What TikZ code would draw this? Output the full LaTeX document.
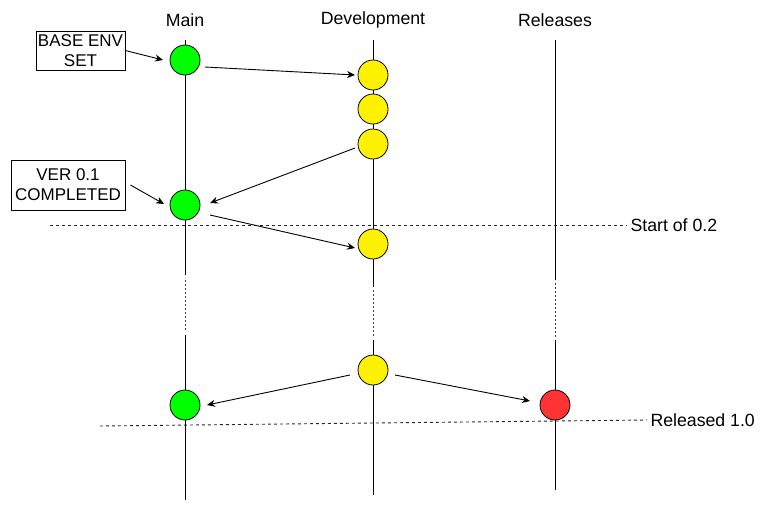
\documentclass[tikz,border=0pt]{standalone}
\usepackage{fontspec}
\setmainfont{Liberation Sans}
\usetikzlibrary{positioning}
\usetikzlibrary{backgrounds}
\usetikzlibrary{calc}
\usetikzlibrary{arrows.meta}
\definecolor{relred}{HTML}{FF3333}
\def\mainx{185}
\def\devx{373}
\def\relx{555}
\tikzset{
>={Stealth[length=8pt,width=7pt]}, % draw.io like tips
every node/.style={font=\fontsize{17.7}{20}\selectfont},
commit/.style={draw,circle,minimum size=30pt,inner sep=0pt,line width=0.8pt},
main commit/.style={commit,fill=green},
dev commit/.style={commit,fill=yellow},
rel commit/.style={commit,fill=relred},
note/.style={draw,align=center,inner sep=0pt,line width=0.8pt,font=\fontsize{17}{20}\selectfont},
branch/.style={line width=0.9pt},
gap/.style={line width=0.9pt,black!75,dash pattern=on 2pt off 2pt},
marker/.style={line width=0.9pt,black!85,dash pattern=on 3pt off 3pt},
link/.style={->,line width=0.9pt}
}
\begin{document}
\begin{tikzpicture}[x=1pt,y=-1pt]
\useasboundingbox (0,0) rectangle (776,512);

% branch headers
\node (hmain) at (\mainx,20) {Main};
\node (hdev)  at (\devx,20)  {Development};
\node (hrel)  at (\relx,20)  {Releases};

% commits
\node[main commit] (m1) at (\mainx,60)  {};
\node[main commit] (m2) at (\mainx,205) {};
\node[main commit] (m3) at (\mainx,405) {};
\node[dev commit]  (d1) at (\devx,75)   {};
\node[dev commit]  (d2) at (\devx,109)  {};
\node[dev commit]  (d3) at (\devx,144)  {};
\node[dev commit]  (d4) at (\devx,244)  {};
\node[dev commit]  (d5) at (\devx,370)  {};
\node[rel commit]  (r1) at (\relx,405)  {};

% notes
\node[note,minimum width=89pt,minimum height=39pt]  (base) at (80.5,50.5) {BASE ENV\\SET};
\node[note,minimum width=114pt,minimum height=50pt] (ver)  at (68,185)    {VER 0.1\\COMPLETED};

% milestones
\node[anchor=west] (start) at (627,225) {Start of 0.2};
\node[anchor=west] (rel)   at (647,420) {Released 1.0};
\coordinate (startl) at (50,225);
\coordinate (rell)   at (100,426);

\begin{scope}[on background layer]
\foreach \x/\a/\b/\c/\d/\e in {\mainx/275/280/330/335/500,\devx/287/290/337/340/495,\relx/280/283/337/340/490}{
  \draw[branch] (\x,40) -- (\x,\a);
  \draw[gap]    (\x,\b) -- (\x,\c);
  \draw[branch] (\x,\d) -- (\x,\e);
}
\draw[marker] (startl) -- (start.west);
\draw[marker] (rell) -- (rel.west);
\end{scope}

% merges and branches
\draw[link] ($(m1)+(20,7)$)  -- ($(d1)+(-18,0)$);
\draw[link] ($(d3)+(-18,4)$) -- ($(m2)+(25,-2)$);
\draw[link] ($(m2)+(25,10)$) -- ($(d4)+(-18,4)$);
\draw[link] ($(d5)+(-23,5)$) -- ($(m3)+(22,0)$);
\draw[link] ($(d5)+(22,5)$)  -- ($(r1)+(-25,-4)$);
\draw[link] (base.east)      -- ($(m1)+(-22,0)$);
\draw[link] ([xshift=5pt]ver.east) -- ($(m2)+(-21,-1)$);
\end{tikzpicture}
\end{document}
